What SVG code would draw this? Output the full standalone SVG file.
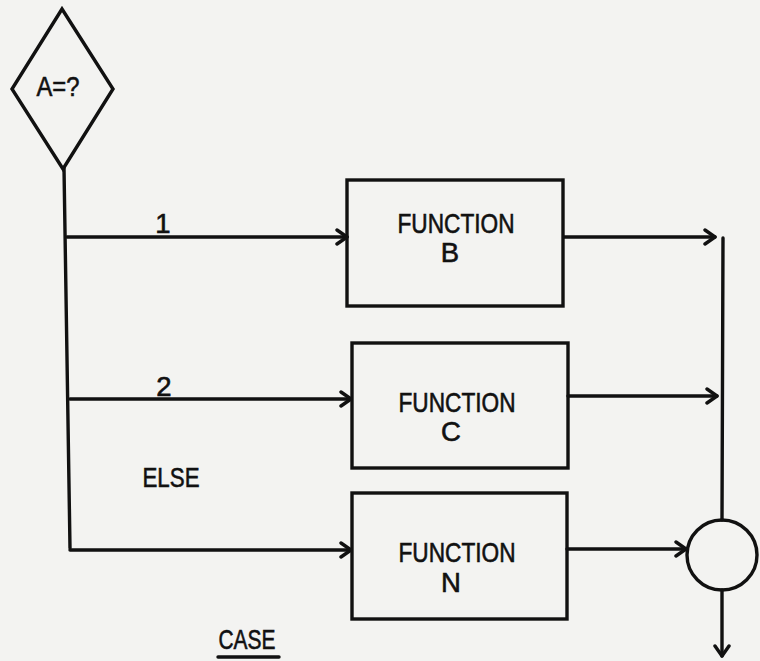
<svg xmlns="http://www.w3.org/2000/svg" width="760" height="661" viewBox="0 0 760 661">
<style>
.ln{stroke:#111;stroke-width:3.4;fill:none;stroke-linecap:round;stroke-linejoin:round}
.box{stroke:#111;stroke-width:3.4;fill:none}
.t{font-family:"Liberation Sans","DejaVu Sans",sans-serif;font-size:27.5px;fill:#111;stroke:#111;stroke-width:0.6;text-anchor:middle}
</style>
<defs>
<marker id="ah" markerWidth="14" markerHeight="18" refX="12" refY="9" orient="auto" markerUnits="userSpaceOnUse">
<path d="M2,2 L12,9 L2,16" fill="none" stroke="#111" stroke-width="3.4" stroke-linecap="round" stroke-linejoin="round"/>
</marker>
</defs>
<rect width="760" height="661" fill="#f3f3f1"/>
<g id="connectors">
<path class="ln" d="M64,168 L70,548"/>
<path class="ln" d="M67,237 L347,237" marker-end="url(#ah)"/>
<path class="ln" d="M70,399 L351,399" marker-end="url(#ah)"/>
<path class="ln" d="M70,550 L351,550" marker-end="url(#ah)"/>
<path class="ln" d="M564,237 L715,237" marker-end="url(#ah)"/>
<path class="ln" d="M568,396 L717,396" marker-end="url(#ah)"/>
<path class="ln" d="M567,549 L686,549" marker-end="url(#ah)"/>
<path class="ln" d="M723,238 L722,520"/>
<path class="ln" d="M722,590 L722,656" marker-end="url(#ah)"/>
</g>
<g id="decision">
<polygon class="box" points="62,9 113,89 63,169 12,89"/>
<text class="t" x="58" y="96" textLength="43" lengthAdjust="spacingAndGlyphs">A=?</text>
</g>
<g id="funcB">
<rect class="box" x="347" y="180" width="216" height="126"/>
<text class="t" x="456" y="233" textLength="117" lengthAdjust="spacingAndGlyphs">FUNCTION</text>
<text class="t" x="450" y="262">B</text>
</g>
<g id="funcC">
<rect class="box" x="352" y="343" width="216" height="125"/>
<text class="t" x="457" y="412" textLength="117" lengthAdjust="spacingAndGlyphs">FUNCTION</text>
<text class="t" x="451" y="441">C</text>
</g>
<g id="funcN">
<rect class="box" x="352" y="493" width="215" height="126"/>
<text class="t" x="457" y="562" textLength="117" lengthAdjust="spacingAndGlyphs">FUNCTION</text>
<text class="t" x="451" y="592">N</text>
</g>
<g id="junction">
<circle class="box" cx="722" cy="555" r="35"/>
</g>
<g id="labels">
<text class="t" x="163" y="233">1</text>
<text class="t" x="164" y="396">2</text>
<text class="t" x="171" y="487" textLength="57" lengthAdjust="spacingAndGlyphs">ELSE</text>
<text class="t" x="247" y="649" textLength="57" lengthAdjust="spacingAndGlyphs">CASE</text>
<line class="ln" x1="218" y1="657" x2="279" y2="657" stroke-width="2.5"/>
</g>
</svg>
